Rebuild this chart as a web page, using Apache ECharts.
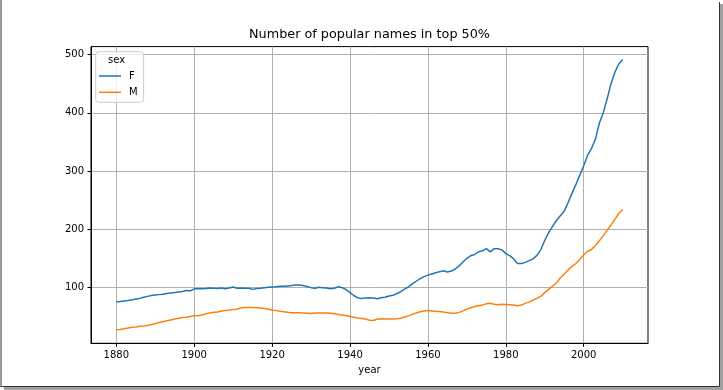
<!DOCTYPE html>
<html><head><meta charset="utf-8">
<script src="https://cdn.jsdelivr.net/npm/echarts@6/dist/echarts.min.js"></script>
<style>html,body{margin:0;padding:0;background:#fff}#c{width:723px;height:390px}</style>
</head><body><div id="c"></div>
<script>
const chartTitle = 'Number of popular names in top 50%';
const xName = 'year';
const legendTitle = 'sex';
const seriesNames = ['F', 'M'];
const xTicks = [1880, 1900, 1920, 1940, 1960, 1980, 2000];
const yTicks = [100, 200, 300, 400, 500];
const firstYear = 1880;
const F = [
  75,75.5,76.5,77.5,78.5,80,81,83,84.5,86,
  87,87.5,88,89.5,90.5,91,92,93,94.5,94,
  97.5,97.5,97.5,98,99,98.5,98,99,97.5,99,
  100.5,98.5,99,98.5,98.5,96.5,98,98.5,99.5,100,
  100.5,101,102,102,102.5,103,104,104,103,101.5,
  99.5,98.5,100,99.5,99,97.5,98.5,101,99.5,96,
  91,86,82,81,81.5,82,81.5,80.5,82,83,
  85,86.5,89,92.5,97,101,106,110.5,115,118.5,
  121,123,125,127,128.5,126.5,128,131.5,137,143.5,
  150,154.5,156.5,161,163,166.5,161,166.5,166.5,164.5,
  158,154.5,149,141,141,143,146,149,155,165,
  181,194,205,215,223,231,246,262,277,293,
  309,327,339,355,382,400,424,450,470,484,
  492
];
const M = [
  27,27.5,29,30,31.5,32,33,33.5,34.5,36,
  37.5,39.5,41,42.5,44,45.5,47,48,48.5,50,
  51,51,52.5,54.5,56,57,57.5,59.5,60,61,
  62,62.5,64.5,65.5,65.5,65.5,65,64.5,63.5,62.5,
  61,60,59,58,57,56.5,56.5,56.5,56,55.5,
  55,56,56,56,56,55.5,54.5,53.5,52.5,51.5,
  50,48.5,47.5,46.5,45.5,43.5,43,45.5,46,45.5,
  45.5,45.5,46,47,49,51,53.5,56,58,59.5,
  60,59.5,59,58.5,57.5,56.5,55.5,55.5,57,59.5,
  62.5,65,67,68.5,69.5,72,72.5,71,70,71,
  70.5,70,69.5,68.5,69.5,72.5,75,78,81,85,
  91,96.5,102,108,116,123,130,136,141,148,
  156,162,165,172,180,189,198,207,217,227,
  234
];
const colors = ['#1f77b4', '#ff7f0e'];

const font = 'DejaVu Sans';
const pairs = arr => arr.map((v, i) => [firstYear + i, v]);

const chart = echarts.init(document.getElementById('c'), null, {renderer: 'canvas'});
chart.setOption({
  animation: false,
  backgroundColor: '#fff',
  title: {
    text: chartTitle, left: 369.5, top: 28.5, padding: 0, textAlign: 'center',
    textStyle: {fontFamily: font, fontSize: 12.8, fontWeight: 'normal', color: '#000'}
  },
  grid: {left: 91, right: 75, top: 46.6, bottom: 46.7, show: true, borderColor: '#000', borderWidth: 1, backgroundColor: 'transparent'},
  legend: {
    data: seriesNames, orient: 'vertical', left: 95.7, top: 51.7, icon: 'rect',
    padding: [18.3, 6, 4, 3.3], itemWidth: 22, itemHeight: 1.5, itemGap: 4.3,
    backgroundColor: 'rgba(255,255,255,0.8)', borderColor: '#cccccc', borderWidth: 1, borderRadius: 3,
    textStyle: {fontFamily: font, fontSize: 10, color: '#000', lineHeight: 12, padding: [0, 0, 0, 3]}
  },
  xAxis: {
    type: 'value', min: 1873.5, max: 2016.5,
    name: xName, nameLocation: 'middle', nameGap: 21,
    nameTextStyle: {fontFamily: font, fontSize: 10, color: '#000'},
    axisLine: {show: true, onZero: false, lineStyle: {color: '#000', width: 1}},
    axisTick: {show: true, customValues: xTicks, length: 3.5, lineStyle: {color: '#000', width: 1}},
    axisLabel: {customValues: xTicks, margin: 7, fontFamily: font, fontSize: 10, color: '#000', formatter: v => String(v)},
    splitLine: {show: true, lineStyle: {color: '#b0b0b0', width: 1}}
  },
  yAxis: {
    type: 'value', min: 3.8, max: 514,
    axisLine: {show: true, onZero: false, lineStyle: {color: '#000', width: 1}},
    axisTick: {show: true, customValues: yTicks, length: 3.5, lineStyle: {color: '#000', width: 1}},
    axisLabel: {customValues: yTicks, margin: 7, fontFamily: font, fontSize: 10, color: '#000', formatter: v => String(v)},
    splitLine: {show: true, lineStyle: {color: '#b0b0b0', width: 1}}
  },
  series: [
    {name: seriesNames[0], type: 'line', data: pairs(F), symbol: 'none', lineStyle: {width: 1.5, color: colors[0]}, itemStyle: {color: colors[0]}},
    {name: seriesNames[1], type: 'line', data: pairs(M), symbol: 'none', lineStyle: {width: 1.5, color: colors[1]}, itemStyle: {color: colors[1]}}
  ],
  graphic: [
    {type: 'text', left: 108, top: 55.5, z: 100, style: {text: legendTitle, font: '10px "DejaVu Sans"', fill: '#000'}},
    {type: 'rect', shape: {x: 4, y: 387, width: 719, height: 3}, style: {fill: '#a0a0a0'}, silent: true},
    {type: 'rect', shape: {x: 720, y: 4, width: 3, height: 386}, style: {fill: '#a0a0a0'}, silent: true},
    {type: 'line', shape: {x1: 1, y1: 0, x2: 1, y2: 386.5}, style: {stroke: '#333', lineWidth: 1}, silent: true},
    {type: 'line', shape: {x1: 0.5, y1: 386.5, x2: 719.5, y2: 386.5}, style: {stroke: '#333', lineWidth: 1}, silent: true},
    {type: 'line', shape: {x1: 719.5, y1: 2, x2: 719.5, y2: 386.5}, style: {stroke: '#333', lineWidth: 1}, silent: true}
  ]
});
</script>
</body></html>
